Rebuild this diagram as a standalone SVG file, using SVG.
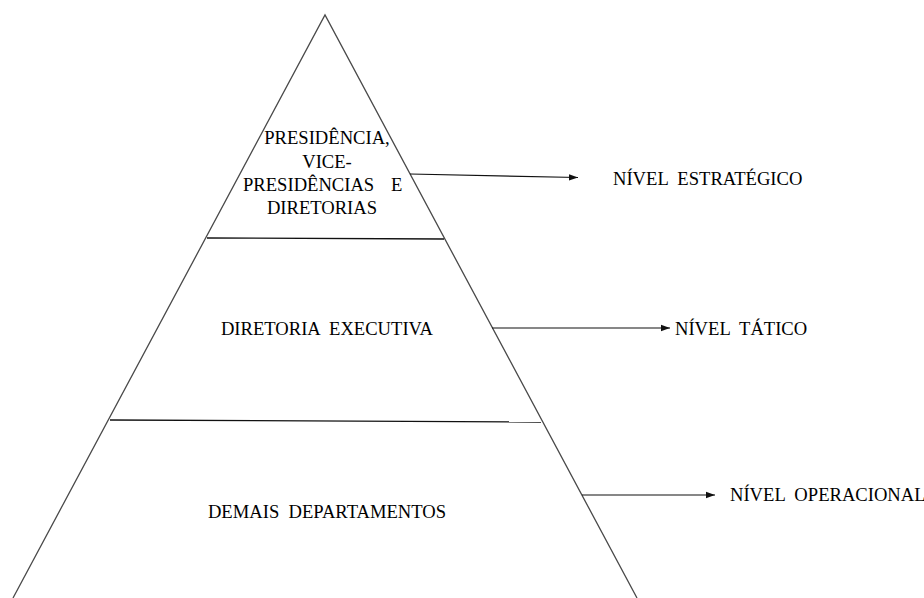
<svg xmlns="http://www.w3.org/2000/svg" width="924" height="598" viewBox="0 0 924 598">
  <style>
    .edge { stroke: #4a4a4a; stroke-width: 1.3; fill: none; }
    .divider { stroke: #111; stroke-width: 1.3; fill: none; }
    .conn { stroke: #111; stroke-width: 1.2; fill: none; marker-end: url(#arrow); }
    .lbl { font-family: 'Liberation Serif', 'DejaVu Serif', serif; font-size: 18.6px; fill: #000; white-space: pre; }
    .mid { text-anchor: middle; }
  </style>
  <defs>
    <marker id="arrow" viewBox="0 0 10 10" refX="10" refY="5" markerWidth="9" markerHeight="9" markerUnits="userSpaceOnUse" orient="auto">
      <path d="M0,1.5 L10,5 L0,8.5 Z" fill="#111"/>
    </marker>
  </defs>
  <rect width="924" height="598" fill="#fff"/>

  <g id="pyramid">
    <path class="edge" d="M13,598 L325,15 L637,598"/>
    <line class="divider" x1="207" y1="238" x2="444" y2="239"/>
    <line class="divider" x1="110" y1="420" x2="541" y2="422"/>
  </g>

  <g id="level-top">
    <text class="lbl mid" x="327" y="144">PRESIDÊNCIA,</text>
    <text class="lbl mid" x="327" y="168">VICE-</text>
    <text class="lbl" x="243" y="191">PRESIDÊNCIAS<tspan x="391">E</tspan></text>
    <text class="lbl mid" x="322" y="214">DIRETORIAS</text>
  </g>
  <g id="level-middle">
    <text class="lbl mid" x="327" y="335">DIRETORIA  EXECUTIVA</text>
  </g>
  <g id="level-bottom">
    <text class="lbl mid" x="327" y="518">DEMAIS  DEPARTAMENTOS</text>
  </g>
  <g id="label-strategic">
    <text class="lbl" x="613" y="185">NÍVEL  ESTRATÉGICO</text>
  </g>
  <g id="label-tactical">
    <text class="lbl" x="675" y="335">NÍVEL  TÁTICO</text>
  </g>
  <g id="label-operational">
    <text class="lbl" x="730" y="501">NÍVEL  OPERACIONAL</text>
  </g>

  <g id="connectors">
    <line class="conn" x1="410" y1="174" x2="578" y2="177.5"/>
    <line class="conn" x1="492" y1="328" x2="670" y2="328"/>
    <line class="conn" x1="582" y1="495" x2="715" y2="495"/>
  </g>
</svg>
